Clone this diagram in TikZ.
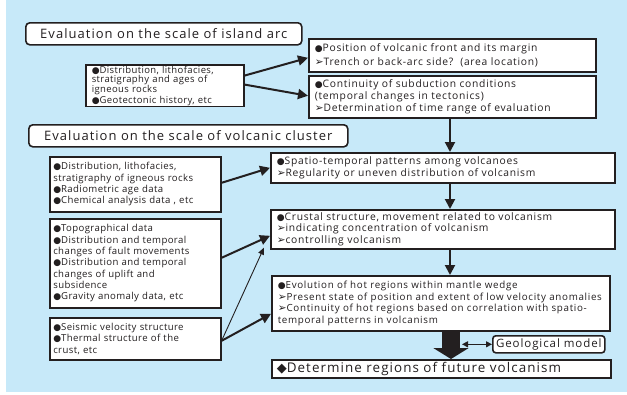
\documentclass[tikz,border=0pt]{standalone}
\usepackage{fontspec}
\setmainfont{Open Sans}[LetterSpace=4]
\newfontfamily\bodyfont{Open Sans}[LetterSpace=7]
\newfontfamily\headfont{Open Sans}[LetterSpace=8]
\newfontfamily\dvsym{DejaVu Sans}
\usetikzlibrary{arrows.meta}
\definecolor{bgblue}{RGB}{199,233,249}
\definecolor{ink}{RGB}{35,31,32}
\newcommand{\bulmk}{{\dvsym\fontsize{9}{0}\selectfont ●}}
\newcommand{\arwmk}{{\dvsym\fontsize{10.5}{0}\selectfont ➢}}
\newcommand{\dmdmk}{{\dvsym\fontsize{13}{0}\selectfont ◆}}
\tikzset{
  box/.style={draw=ink, line width=1.6pt, fill=white, anchor=north west,
    align=left, inner ysep=1pt, text=ink},
  rbox/.style={box, inner xsep=6pt, font=\bodyfont\fontsize{10.3}{11.5}\selectfont},
  lbox/.style={box, inner xsep=3.5pt, font=\fontsize{9.6}{11.3}\selectfont},
  headbox/.style={box, rounded corners=4pt, align=center, inner xsep=0pt,
    font=\headfont\fontsize{13}{15}\selectfont},
  arr/.style={draw=ink, line width=2pt, -{Triangle[length=10pt,width=10pt]}},
  thinarr/.style={draw=ink, line width=0.9pt, -{Triangle[length=7pt,width=6pt]}},
}
\begin{document}
\begin{tikzpicture}[x=1pt,y=-1pt]
\useasboundingbox (0,0) rectangle (627,394);
\fill[bgblue] (6,0) rectangle (627,392);

% island arc scale
\node[headbox, minimum width=276pt, minimum height=22pt] (T1) at (25,22)
  {Evaluation on the scale of island arc};
\node[box, inner xsep=6pt, text width=146pt, minimum height=38pt,
  font=\fontsize{9.5}{9}\selectfont] (A) at (85,64)
  {\bulmk Distribution, lithofacies,\\stratigraphy and ages of\\igneous rocks\\\bulmk Geotectonic history, etc};
\node[rbox, text width=275pt, minimum height=33pt, font=\bodyfont\fontsize{10.3}{14.5}\selectfont] (B) at (308,38)
  {\bulmk Position of volcanic front and its margin\\\arwmk Trench or back-arc side?\ \ (area location)};
\node[rbox, text width=275pt, minimum height=42pt, font=\bodyfont\fontsize{10.3}{12}\selectfont] (C) at (308,75)
  {\bulmk Continuity of subduction conditions\\(temporal changes in tectonics)\\\arwmk Determination of time range of evaluation};

% volcanic cluster scale
\node[headbox, minimum width=319pt, minimum height=22pt] (T2) at (28,124)
  {Evaluation on the scale of volcanic cluster};
\node[lbox, text width=164pt, minimum height=55pt] (D) at (49,156)
  {\bulmk Distribution, lithofacies,\\stratigraphy of igneous rocks\\\bulmk Radiometric age data\\\bulmk Chemical analysis data , etc};
\node[lbox, text width=164pt, minimum height=89pt] (P) at (49,218)
  {\bulmk Topographical data\\\bulmk Distribution and temporal\\changes of fault movements\\\bulmk Distribution and temporal\\changes of uplift and\\subsidence\\\bulmk Gravity anomaly data, etc};
\node[lbox, text width=164pt, minimum height=42pt] (S) at (49,317)
  {\bulmk Seismic velocity structure\\\bulmk Thermal structure of the\\crust, etc};

\node[rbox, text width=332pt, minimum height=30pt] (E) at (270,152)
  {\bulmk Spatio-temporal patterns among volcanoes\\\arwmk Regularity or uneven distribution of volcanism};
\node[rbox, text width=332pt, minimum height=39pt] (F) at (270,209)
  {\bulmk Crustal structure, movement related to volcanism\\\arwmk indicating concentration of volcanism\\\arwmk controlling volcanism};
\node[rbox, text width=326pt, minimum height=55pt, font=\bodyfont\fontsize{9.8}{11.7}\selectfont] (G) at (271,275)
  {\bulmk Evolution of hot regions within mantle wedge\\\arwmk Present state of position and extent of low velocity anomalies\\\arwmk Continuity of hot regions based on correlation with spatio-\\temporal patterns in volcanism};
\node[box, rounded corners=3pt, inner xsep=0pt, minimum width=112pt, minimum height=17pt,
  align=center, font=\headfont\fontsize{11.5}{13}\selectfont] (M) at (492,335) {Geological model};
\node[box, inner xsep=5pt, text width=329pt, minimum height=18pt,
  font=\headfont\fontsize{13.4}{14}\selectfont] (H) at (271,359) {\dmdmk Determine regions of future volcanism};

% column of the main flow
\coordinate (col) at (450,0);

% connectors
\draw[arr] ([yshift=10pt]A.east) -- ([yshift=-2.5pt]B.west);
\draw[arr] ([yshift=1pt]A.east) -- ([yshift=1pt]C.west);
\draw[arr] (C.south -| col) -- (E.north -| col);
\draw[arr] ([yshift=1.5pt]D.east) -- (E.west);
\draw[arr] ([yshift=5.5pt]P.east) -- ([yshift=-6.5pt]F.west);
\coordinate (Fend) at ([xshift=-6pt,yshift=2pt]F.south west);
\draw[thinarr] ([yshift=-2pt]S.east) -- (Fend);
\draw[arr] ([yshift=-2pt]S.east) -- ([yshift=-10.5pt]G.west);
\draw[arr] (E.south -| col) -- (F.north -| col);
\draw[arr] (F.south -| col) -- (G.north -| col);
\draw[draw=ink, line width=18pt, -{Triangle[length=11pt,width=35pt]}]
  ([xshift=1pt]G.south -| col) -- ([xshift=1pt]H.north -| col);
\draw[draw=ink, line width=1.2pt, {Triangle[length=6pt,width=6pt]}-{Triangle[length=6pt,width=6pt]}]
  ([xshift=12pt]M.west -| col) -- (M.west);
\end{tikzpicture}
\end{document}
